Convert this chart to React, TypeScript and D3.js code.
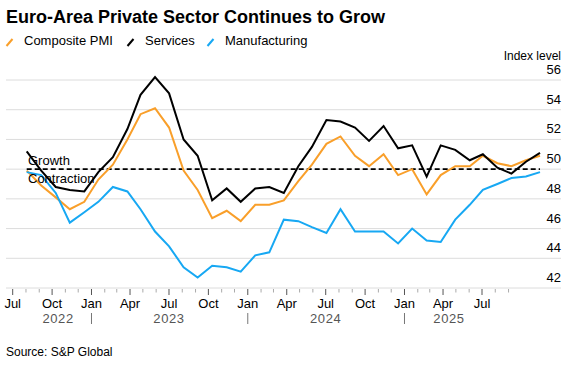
import React, { useEffect, useRef } from 'react';
import * as d3 from 'd3';

// monthly readings, Jul 2022 .. Jul 2025
const startMonth = new Date(2022, 6, 1);
const composite = [49.9, 48.9, 48.1, 47.3, 47.8, 49.3, 50.3, 52.0, 53.7, 54.1, 52.8, 49.9, 48.6, 46.7, 47.2, 46.5, 47.6, 47.6, 47.9, 49.2, 50.3, 51.7, 52.2, 50.9, 50.2, 51.0, 49.6, 50.0, 48.3, 49.6, 50.2, 50.2, 50.9, 50.4, 50.2, 50.6, 50.9];
const services = [51.2, 49.9, 48.8, 48.6, 48.5, 49.8, 50.8, 52.7, 55.0, 56.2, 55.1, 52.0, 50.9, 47.9, 48.7, 47.8, 48.7, 48.8, 48.4, 50.2, 51.5, 53.3, 53.2, 52.8, 51.9, 52.9, 51.4, 51.6, 49.5, 51.6, 51.3, 50.6, 51.0, 50.1, 49.7, 50.5, 51.1];
const manufacturing = [49.8, 49.6, 48.4, 46.4, 47.1, 47.8, 48.8, 48.5, 47.3, 45.8, 44.8, 43.4, 42.7, 43.5, 43.4, 43.1, 44.2, 44.4, 46.6, 46.5, 46.1, 45.7, 47.3, 45.8, 45.8, 45.8, 45.0, 46.0, 45.2, 45.1, 46.6, 47.6, 48.6, 49.0, 49.4, 49.5, 49.8];
const yTicks = [42, 44, 46, 48, 50, 52, 54, 56];
const quarterLabels = ['Jul', 'Oct', 'Jan', 'Apr'];
const yearLabels = [
	{ year: '2022', at: new Date(2022, 9, 15) },
	{ year: '2023', at: new Date(2023, 6, 1) },
	{ year: '2024', at: new Date(2024, 6, 1) },
	{ year: '2025', at: new Date(2025, 3, 15) }
];
const seriesList = [
	{ name: 'Composite PMI', values: composite, color: '#f99f2a' },
	{ name: 'Services', values: services, color: '#000000' },
	{ name: 'Manufacturing', values: manufacturing, color: '#17a8f3' }
];

const FONT = '"Liberation Sans", Arial, sans-serif';

const App: React.FC = () => {
	const svgRef = useRef<SVGSVGElement>(null);

	useEffect(() => {
		if (svgRef.current == null) return;
		const width = 570;
		const height = 366;
		const svg = d3.select(svgRef.current)
			.attr('width', width)
			.attr('height', height);
		svg.selectAll('*').remove();

		const months = d3.timeMonth.range(startMonth, d3.timeMonth.offset(startMonth, composite.length));
		const lastMonth = months[months.length - 1];

		// data scale and axis scale do not line up in the source chart
		const x = d3.scaleTime().domain([startMonth, lastMonth]).range([26.7, 540]);
		const xAxis = d3.scaleTime().domain([startMonth, new Date(2025, 6, 1)]).range([12.7, 482]);
		const y = d3.scaleLinear().domain([42, 56]).range([288, 80]);

		// title
		svg.append('text')
			.attr('x', 6)
			.attr('y', 23)
			.style('font-family', FONT)
			.style('font-weight', 'bold')
			.style('font-size', '18px')
			.style('fill', '#000')
			.text('Euro-Area Private Sector Continues to Grow');

		// legend
		const legendX = [6, 127, 207];
		seriesList.forEach((s, i) => {
			const lx = legendX[i];
			svg.append('line')
				.attr('x1', lx + 0.5)
				.attr('y1', 46)
				.attr('x2', lx + 6.5)
				.attr('y2', 39)
				.attr('stroke', s.color)
				.attr('stroke-width', 2);
			svg.append('text')
				.attr('x', lx + 18)
				.attr('y', 45)
				.style('font-family', FONT)
				.style('font-size', '13px')
				.style('fill', '#000')
				.text(s.name);
		});

		// grid + right labels
		yTicks.forEach(t => {
			svg.append('line')
				.attr('x1', 6)
				.attr('x2', 561)
				.attr('y1', y(t))
				.attr('y2', y(t))
				.attr('stroke', '#dcdcdc')
				.attr('stroke-width', 1);
			svg.append('text')
				.attr('x', 561)
				.attr('y', y(t) - 6)
				.attr('text-anchor', 'end')
				.style('font-family', FONT)
				.style('font-size', '13px')
				.style('fill', '#000')
				.text(t);
		});
		svg.append('text')
			.attr('x', 561)
			.attr('y', 60)
			.attr('text-anchor', 'end')
			.style('font-family', FONT)
			.style('font-size', '12px')
			.style('fill', '#000')
			.text('Index level');

		// x ticks
		const axisMonths = d3.timeMonth.range(startMonth, new Date(2025, 9, 1));
		axisMonths.forEach(m => {
			const major = m.getMonth() % 3 === 0;
			svg.append('line')
				.attr('x1', xAxis(m))
				.attr('x2', xAxis(m))
				.attr('y1', 289)
				.attr('y2', major ? 295 : 292.5)
				.attr('stroke', major ? '#555' : '#aaa')
				.attr('stroke-width', 1);
			if (major && m <= new Date(2025, 6, 1)) {
				svg.append('text')
					.attr('x', xAxis(m))
					.attr('y', 308)
					.attr('text-anchor', 'middle')
					.style('font-family', FONT)
					.style('font-size', '13px')
					.style('fill', '#000')
					.text(quarterLabels[((m.getMonth() - 6) / 3 + 4) % 4]);
			}
			if (m.getMonth() === 0) {
				svg.append('line')
					.attr('x1', xAxis(m))
					.attr('x2', xAxis(m))
					.attr('y1', 313)
					.attr('y2', 324)
					.attr('stroke', '#777')
					.attr('stroke-width', 1);
			}
		});
		yearLabels.forEach(yl => {
			svg.append('text')
				.attr('x', xAxis(yl.at))
				.attr('y', 323)
				.attr('text-anchor', 'middle')
				.style('font-family', FONT)
				.style('font-size', '13px')
				.style('letter-spacing', '0.6px')
				.style('fill', '#555')
				.text(yl.year);
		});

		// 50 threshold
		svg.append('line')
			.attr('x1', x(startMonth))
			.attr('x2', x(lastMonth))
			.attr('y1', y(50))
			.attr('y2', y(50))
			.attr('stroke', '#000')
			.attr('stroke-width', 1.6)
			.attr('stroke-dasharray', '5,3');

		const line = d3.line<number>()
			.x((_, i) => x(months[i]))
			.y(d => y(d));

		seriesList.forEach(s => {
			svg.append('path')
				.datum(s.values)
				.attr('d', line)
				.attr('fill', 'none')
				.attr('stroke', s.color)
				.attr('stroke-width', 2)
				.attr('stroke-linejoin', 'miter');
		});

		svg.append('text')
			.attr('x', 28)
			.attr('y', 165)
			.style('font-family', FONT)
			.style('font-size', '13px')
			.style('fill', '#000')
			.text('Growth');
		svg.append('text')
			.attr('x', 28)
			.attr('y', 183)
			.style('font-family', FONT)
			.style('font-size', '13px')
			.style('fill', '#000')
			.text('Contraction');

		// source
		svg.append('text')
			.attr('x', 6)
			.attr('y', 356)
			.style('font-family', FONT)
			.style('font-size', '12px')
			.style('fill', '#000')
			.text('Source: S&P Global');
	}, []);

	return <svg ref={svgRef} style={{ position: 'absolute', left: 0, top: 0 }}></svg>;
};

export default App;
